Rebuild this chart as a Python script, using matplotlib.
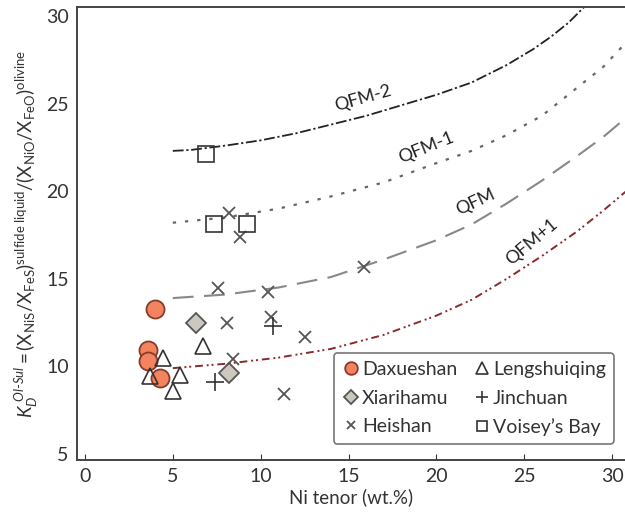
import matplotlib
matplotlib.use('agg')
import matplotlib.pyplot as plt

# sample data (Ni tenor wt.%, KD)
dax_x = [4.0, 3.6, 3.6, 4.3]
dax_y = [13.3, 10.95, 10.3, 9.35]
xia_x = [6.3, 8.2]
xia_y = [12.5, 9.65]
len_x = [6.7, 4.45, 3.7, 5.4, 5.0]
len_y = [11.15, 10.5, 9.45, 9.5, 8.6]
jin_x = [7.4, 10.7]
jin_y = [9.1, 12.3]
hei_x = [8.2, 8.8, 7.6, 10.4, 8.1, 10.6, 12.5, 8.4, 11.3, 15.9]
hei_y = [18.75, 17.4, 14.5, 14.25, 12.5, 12.8, 11.7, 10.4, 8.4, 15.7]
voi_x = [6.9, 7.35, 9.2]
voi_y = [22.1, 18.1, 18.15]

# buffer curves
qfm2_x = [5, 6, 8, 10, 12, 14, 16, 18, 20, 22, 24, 25.5, 26.5, 27.5, 28.4]
qfm2_y = [22.3, 22.35, 22.6, 22.9, 23.3, 23.8, 24.3, 24.9, 25.5, 26.2, 27.2, 28.1, 28.8, 29.6, 30.5]
qfm1_x = [5, 8, 11, 14, 17, 20, 22, 24, 26, 28, 29.5, 30.8]
qfm1_y = [18.2, 18.5, 19.0, 19.7, 20.5, 21.6, 22.3, 23.2, 24.3, 25.9, 27.1, 28.5]
qfm_x = [5, 8, 11, 14, 17, 20, 22, 24, 26, 28, 29.5, 30.8]
qfm_y = [13.9, 14.1, 14.5, 15.1, 16.1, 17.2, 18.1, 19.3, 20.6, 22.0, 23.1, 24.2]
qfm1p_x = [5, 8, 11, 14, 17, 20, 22, 24, 26, 28, 29.5, 30.8]
qfm1p_y = [9.9, 10.15, 10.5, 11.0, 11.8, 12.9, 13.8, 15.0, 16.3, 17.7, 18.9, 20.0]

plt.rcParams['font.family'] = ['Lato', 'DejaVu Sans']
plt.rcParams['mathtext.fontset'] = 'custom'
plt.rcParams['mathtext.rm'] = 'Lato'
plt.rcParams['mathtext.it'] = 'Lato:italic'

fig = plt.figure(figsize=(6.25, 5.22), dpi=100)
ax = fig.add_axes([0.1232, 0.1188, 0.8768, 0.8678])

ax.plot(qfm2_x, qfm2_y, color='#222222', lw=1.3, dashes=(6, 1.5, 1.2, 1.5))
ax.plot(qfm1_x, qfm1_y, color='#666666', lw=1.6, dashes=(1.5, 4))
ax.plot(qfm_x, qfm_y, color='#888888', lw=1.5, dashes=(10, 5))
ax.plot(qfm1p_x, qfm1p_y, color='#8a2a2a', lw=1.4, dashes=(4, 2, 1, 1.5, 1, 2))

lab = dict(fontsize=13, color='#222222', ha='center', va='center')
ax.text(15.8, 25.3, 'QFM-2', rotation=16, **lab)
ax.text(19.4, 22.5, 'QFM-1', rotation=22, **lab)
ax.text(22.2, 19.4, 'QFM', rotation=25, **lab)
ax.text(25.4, 17.1, 'QFM+1', rotation=40, **lab)

ax.plot(dax_x, dax_y, 'o', ms=13, mfc='#F4845F', mec='#8a3a2a', mew=1.3, ls='none', label='Daxueshan')
ax.plot(xia_x, xia_y, 'D', ms=10, mfc='#cdc8bf', mec='#555555', mew=1.3, ls='none', label='Xiarihamu')
ax.plot(hei_x, hei_y, 'x', ms=9, color='#555555', mew=1.3, ls='none', label='Heishan')
ax.plot(len_x, len_y, '^', ms=12, mfc='none', mec='#333333', mew=1.2, ls='none', label='Lengshuiqing')
ax.plot(jin_x, jin_y, '+', ms=13, color='#333333', mew=1.2, ls='none', label='Jinchuan')
ax.plot(voi_x, voi_y, 's', ms=11, mfc='none', mec='#333333', mew=1.2, ls='none', label="Voisey\u2019s Bay")

ax.set_xlim(-0.45, 30.73)
ax.set_ylim(4.66, 30.51)
ax.set_xticks([0, 5, 10, 15, 20, 25, 30])
ax.set_yticks([5, 10, 15, 20, 25, 30])
ax.tick_params(direction='in', length=4, labelsize=14, colors='#333333', pad=6)
ax.tick_params(axis='y', length=0)
for s in ['left', 'bottom', 'top']:
    ax.spines[s].set_color('#444444')
    ax.spines[s].set_linewidth(1.4)
ax.spines['right'].set_visible(False)

ax.set_xlabel('Ni tenor (wt.%)', fontsize=13.5, color='#333333', labelpad=2)
ax.set_ylabel(r'$K_D^{\ Ol\mathrm{\text{-}}Sul}\mathrm{=(X_{NiS}/X_{FeS})^{sulfide\ liquid}/(X_{NiO}/X_{FeO})^{olivine}}$',
              fontsize=13.5, color='#333333', labelpad=4)

leg = ax.legend(ncol=2, loc='lower right', bbox_to_anchor=(0.997, 0.014), fontsize=14,
                handletextpad=0.05, columnspacing=0.8, handlelength=1.0, labelspacing=0.6,
                borderpad=0.4, markerscale=0.7, frameon=True, fancybox=True)
leg.get_frame().set_edgecolor('#555555')
leg.get_frame().set_linewidth(1.2)
for t in leg.get_texts():
    t.set_color('#333333')

fig.savefig('out.png', dpi=100)
